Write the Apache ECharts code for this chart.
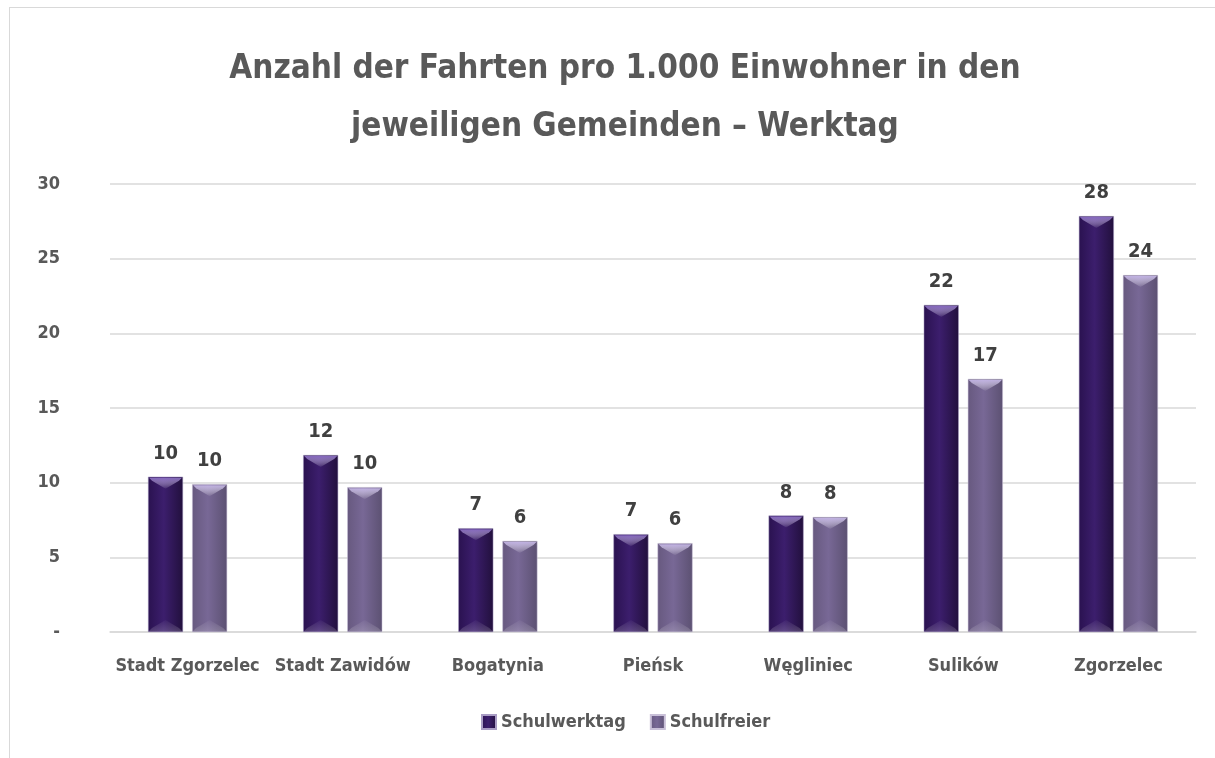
<!DOCTYPE html>
<html>
<head>
<meta charset="utf-8">
<script src="https://cdn.jsdelivr.net/npm/echarts@6/dist/echarts.min.js"></script>
<style>
  html, body { margin: 0; padding: 0; background: #fff; }
  #frame { position: absolute; left: 9px; top: 7px; width: 1206px; height: 751px;
           border-left: 1px solid #d9d9d9; border-top: 1px solid #d9d9d9; }
  #main { position: absolute; left: -10px; top: -8px; width: 1215px; height: 758px; }
</style>
</head>
<body>
<div id="frame"><div id="main"></div></div>
<script>
  // Daten
  var gemeinden = ['Stadt Zgorzelec', 'Stadt Zawidów', 'Bogatynia', 'Pieńsk', 'Węgliniec', 'Sulików', 'Zgorzelec'];
  var schulwerktag = [10.4, 11.85, 6.95, 6.55, 7.8, 21.9, 27.85];
  var schulfreier = [9.9, 9.7, 6.1, 5.95, 7.7, 16.95, 23.9];
  var yTicks = { min: 0, max: 30, interval: 5 };

  var font = '"DejaVu Sans Condensed", "Liberation Sans Narrow", "Noto Sans", sans-serif';
  var BAR_W = 35;
  var BAR_GAP = 0.26;

  function barColor(c1, c2, c3) {
    return new echarts.graphic.LinearGradient(0, 0, 1, 0, [
      { offset: 0, color: c1 },
      { offset: 0.45, color: c2 },
      { offset: 1, color: c3 }
    ]);
  }

  // Abschraegung (Bevel) oben und unten auf den Balken
  function bevel(xc, yTop, yBot, topColor) {
    var x0 = xc - BAR_W / 2, x1 = xc + BAR_W / 2;
    var depth = Math.min(12, (yBot - yTop) / 3);
    return [
      {
        type: 'polygon',
        shape: { points: [[x0 + 1, yTop + 1], [x1 - 1, yTop + 1], [x1 - 4, yTop + 4], [xc, yTop + depth], [x0 + 4, yTop + 4]] },
        style: {
          fill: new echarts.graphic.LinearGradient(0, 0, 0, 1, [
            { offset: 0, color: topColor },
            { offset: 1, color: 'rgba(255,255,255,0.05)' }
          ])
        }
      },
      {
        type: 'polygon',
        shape: { points: [[x0 + 1, yBot - 1], [x1 - 1, yBot - 1], [x1 - 4, yBot - 4], [xc, yBot - depth], [x0 + 4, yBot - 4]] },
        style: {
          fill: new echarts.graphic.LinearGradient(0, 0, 0, 1, [
            { offset: 0, color: 'rgba(255,255,255,0.03)' },
            { offset: 1, color: 'rgba(255,255,255,0.18)' }
          ])
        }
      }
    ];
  }

  var bevelData = gemeinden.map(function (g, i) { return [i, schulwerktag[i], schulfreier[i]]; });

  var chart = echarts.init(document.getElementById('main'));
  var option = {
    backgroundColor: 'transparent',
    title: {
      text: 'Anzahl der Fahrten pro 1.000 Einwohner in den\njeweiligen Gemeinden – Werktag',
      left: 620,
      top: 35,
      textAlign: 'center',
      textStyle: {
        fontFamily: font,
        fontSize: 33,
        fontWeight: 'bold',
        color: '#595959',
        lineHeight: 58
      }
    },
    legend: {
      bottom: 22,
      left: 476,
      icon: 'rect',
      itemWidth: 14,
      itemHeight: 14,
      itemGap: 24,
      textStyle: { fontFamily: font, fontSize: 18, fontWeight: 'bold', color: '#595959' },
      data: ['Schulwerktag', 'Schulfreier']
    },
    grid: { left: 110, right: 19, top: 184, bottom: 126 },
    xAxis: {
      type: 'category',
      data: gemeinden,
      axisLine: { lineStyle: { color: '#d9d9d9', width: 1.5 } },
      axisTick: { show: false },
      axisLabel: { interval: 0, margin: 25, fontFamily: font, fontSize: 18, fontWeight: 'bold', color: '#595959' }
    },
    yAxis: {
      type: 'value',
      min: yTicks.min,
      max: yTicks.max,
      interval: yTicks.interval,
      axisLine: { show: false },
      axisTick: { show: false },
      splitLine: { lineStyle: { color: '#d9d9d9', width: 1.5 } },
      axisLabel: {
        margin: 50,
        fontFamily: font, fontSize: 18, fontWeight: 'bold', color: '#595959',
        formatter: function (v) { return v === 0 ? '-' : v; }
      }
    },
    series: [
      {
        name: 'Schulwerktag',
        type: 'bar',
        data: schulwerktag,
        barWidth: BAR_W,
        barGap: (BAR_GAP * 100) + '%',
        itemStyle: { color: barColor('#2a1250', '#3c1e6d', '#22103d'), borderColor: '#a99cc4', borderWidth: 0.5 },
        label: {
          show: true, position: 'top', distance: 13,
          fontFamily: font, fontSize: 20, fontWeight: 'bold', color: '#404040',
          formatter: function (p) { return Math.round(p.value); }
        }
      },
      {
        name: 'Schulfreier',
        type: 'bar',
        data: schulfreier,
        barWidth: BAR_W,
        itemStyle: { color: barColor('#67597f', '#786896', '#5c5172'), borderColor: '#c9c0d8', borderWidth: 0.5 },
        label: {
          show: true, position: 'top', distance: 13,
          fontFamily: font, fontSize: 20, fontWeight: 'bold', color: '#404040',
          formatter: function (p) { return Math.round(p.value); }
        }
      },
      {
        type: 'custom',
        silent: true,
        z: 5,
        data: bevelData,
        renderItem: function (params, api) {
          var i = api.value(0);
          var base = api.coord([i, 0]);
          var off = BAR_W * (1 + BAR_GAP) / 2;
          var topA = api.coord([i, api.value(1)])[1];
          var topB = api.coord([i, api.value(2)])[1];
          var children = bevel(base[0] - off, topA, base[1], 'rgba(140,110,200,0.9)')
            .concat(bevel(base[0] + off, topB, base[1], 'rgba(200,185,235,0.9)'));
          return { type: 'group', children: children };
        }
      }
    ]
  };
  chart.setOption(option);
</script>
</body>
</html>
